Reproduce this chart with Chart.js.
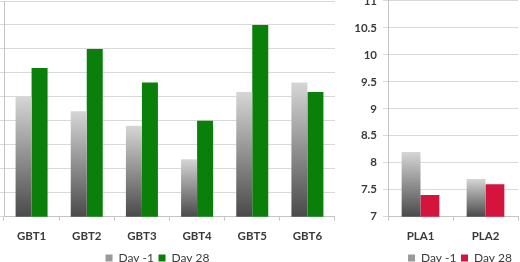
<!DOCTYPE html>
<html><head><meta charset="utf-8">
<script src="https://cdn.jsdelivr.net/npm/chart.js@4"></script>
<style>
html,body{margin:0;padding:0;background:#fff;overflow:hidden;width:520px;height:262px;}
.box{position:absolute;}
</style></head>
<body>
<div class="box" id="lb" style="left:-20px;top:0px;width:355px;height:274px;"><canvas id="c1"></canvas></div>
<div class="box" id="rb" style="left:339px;top:-12px;width:242px;height:286px;"><canvas id="c2"></canvas></div>
<script>
const gbtCategories = ['GBT1','GBT2','GBT3','GBT4','GBT5','GBT6'];
const gbtDayMinus1 = [9.0, 8.7, 8.4, 7.7, 9.1, 9.3];
const gbtDay28 = [9.6, 10.0, 9.3, 8.5, 10.5, 9.1];
const plaCategories = ['PLA1','PLA2'];
const plaDayMinus1 = [8.2, 7.7];
const plaDay28 = [7.4, 7.6];
const seriesNames = ['Day -1','Day 28'];
const yMin = 6.5, yMax = 11, yStep = 0.5;
const plaMin = 7, plaMax = 11, plaStep = 0.5;

const FONT = {family:'Lato', size:12};
const TICKFONT = {family:'Lato', size:11.5, weight:'bold'};
const TXT = '#3a3a3a';
const GRID = '#d9d9d9';
const AXIS = '#c4c4c4';
const GREEN = '#0a800a';
const RED = '#d4143c';

function grayGrad(ctx){
  const chart = ctx.chart;
  const ca = chart.chartArea;
  if(!ca || ctx.dataIndex === undefined || !ctx.parsed) return '#9a9a9a';
  const y = chart.scales.y;
  const top = y.getPixelForValue(ctx.parsed.y);
  const bottom = y.getPixelForValue(y.min);
  if(!isFinite(top) || !isFinite(bottom) || bottom-top < 1) return '#9a9a9a';
  const g = chart.ctx.createLinearGradient(0, top, 0, bottom);
  g.addColorStop(0, '#d6d6d6');
  g.addColorStop(1, '#4a4a4a');
  return g;
}

function legendOpts(align){
  return {
    position:'bottom', align: align,
    labels:{
      boxWidth:7, boxHeight:7, color:TXT, font:FONT, padding:4.5,
      generateLabels(chart){
        const items = Chart.defaults.plugins.legend.labels.generateLabels(chart);
        items.forEach((it,i)=>{ if(i===0) it.fillStyle='#9a9a9a'; it.strokeStyle='rgba(0,0,0,0)'; it.lineWidth=0; });
        return items;
      }
    }
  };
}

const xScale = {
  afterFit(s){ s.height -= 5; },
  grid:{display:true, drawOnChartArea:false, color:AXIS, tickLength:4, offset:true},
  border:{color:AXIS},
  ticks:{color:TXT, font:TICKFONT, padding:9}
};

new Chart(document.getElementById('c1'), {
  type:'bar',
  data:{
    labels:gbtCategories,
    datasets:[
      {label:seriesNames[0], data:gbtDayMinus1, backgroundColor:grayGrad, borderWidth:0},
      {label:seriesNames[1], data:gbtDay28, backgroundColor:GREEN, borderWidth:0}
    ]
  },
  options:{
    responsive:true, maintainAspectRatio:false, animation:false,
    layout:{padding:{top:1,right:0,left:0,bottom:0}},
    datasets:{bar:{barPercentage:1, categoryPercentage:0.58}},
    plugins:{legend:legendOpts('center'), tooltip:{enabled:false}},
    scales:{
      x:xScale,
      y:{
        min:yMin, max:yMax,
        afterFit(s){ s.width = 24; },
        grid:{color:GRID, tickLength:4, drawTicks:true},
        border:{color:AXIS},
        ticks:{display:false, stepSize:yStep}
      }
    }
  }
});

new Chart(document.getElementById('c2'), {
  type:'bar',
  data:{
    labels:plaCategories,
    datasets:[
      {label:seriesNames[0], data:plaDayMinus1, backgroundColor:grayGrad, borderWidth:0},
      {label:seriesNames[1], data:plaDay28, backgroundColor:RED, borderWidth:0}
    ]
  },
  options:{
    responsive:true, maintainAspectRatio:false, animation:false,
    layout:{padding:{top:0,right:0,left:0,bottom:0}},
    datasets:{bar:{barPercentage:1, categoryPercentage:0.58}},
    plugins:{legend:legendOpts('center'), tooltip:{enabled:false}},
    scales:{
      x:xScale,
      y:{
        min:plaMin, max:plaMax,
        afterFit(s){ s.width = 49; },
        grid:{color:GRID, tickLength:5},
        border:{color:AXIS},
        ticks:{color:TXT, font:TICKFONT, stepSize:plaStep, padding:6,
          callback:(v)=>String(Math.round(v*10)/10)}
      },
      y2:{
        position:'right', min:plaMin, max:plaMax,
        afterFit(s){ s.width = 63; },
        grid:{display:false, drawTicks:false},
        border:{display:false},
        ticks:{display:false}
      }
    }
  }
});
</script>
</body></html>
